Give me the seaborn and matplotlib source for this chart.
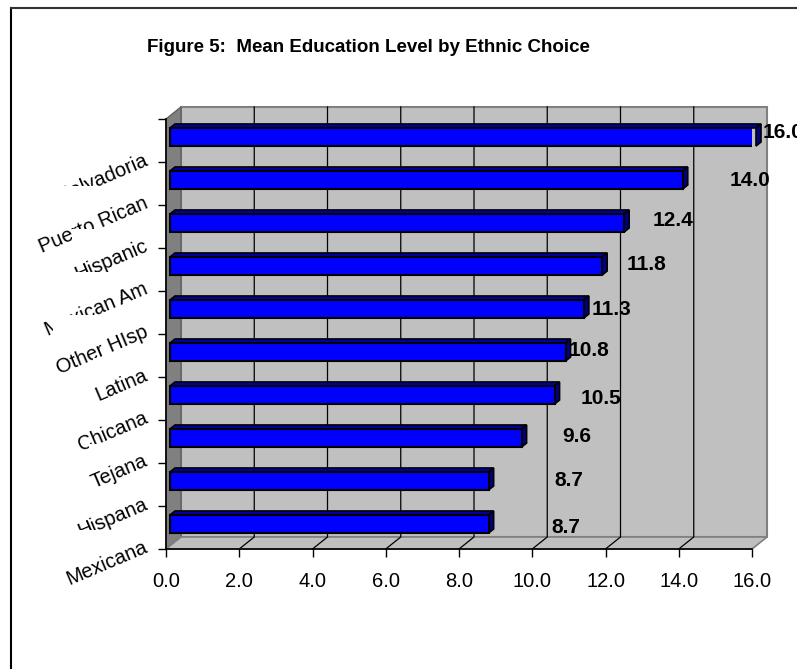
import matplotlib
matplotlib.use("Agg")
import matplotlib.pyplot as plt
from matplotlib.patches import Polygon, Rectangle
from matplotlib.lines import Line2D
from matplotlib.transforms import offset_copy
import seaborn as sns
import pandas as pd
import numpy as np

# ---- data -------------------------------------------------------------
groups = ["Salvadoria", "Puerto Rican", "Hispanic", "Mexican Am", "Other HIsp",
          "Latina", "Chicana", "Tejana", "Hispana", "Mexicana"]
mean_education = [16.0, 14.0, 12.4, 11.8, 11.3, 10.8, 10.5, 9.6, 8.7, 8.7]
x_ticks = [0, 2, 4, 6, 8, 10, 12, 14, 16]
x_tick_labels = ["0.0", "2.0", "4.0", "6.0", "8.0", "10.0", "12.0", "14.0", "16.0"]
title = "Figure 5:  Mean Education Level by Ethnic Choice"

# ---- layout (pixels) ----------------------------------------------------
W, H = 797, 669
DEPTH = np.array([15.0, 12.0])        # offset of the back wall
BAR_FRONT = np.array([4.0, 3.5])      # front face of the bars inside the box
BAR_BACK = np.array([9.0, 7.5])       # back face of the bars
# nudges of the value annotations from the bar end (pixels, right / up)
value_label_dx = [31.5, 71.5, 53.0, 48.5, 32.0, 27.5, 50.0, 59.5, 84.0, 81.5]
value_label_dy = [8.0, 3.5, 5.5, 5.0, 3.5, 5.5, 0.5, 5.5, 4.0, 0.0]

plt.rcParams["font.family"] = ["Liberation Sans", "DejaVu Sans"]

fig = plt.figure(figsize=(W / 100, H / 100), dpi=100)
fig.patch.set_facecolor("white")
ax = fig.add_axes([166 / W, (H - 549) / H, (752 - 166) / W, (549 - 119) / H])
ax.set_facecolor("none")

df = pd.DataFrame({"group": groups, "years": mean_education})
sns.barplot(data=df, x="years", y="group", orient="h", order=groups,
            color="#0000FF", saturation=1, width=0.42, errorbar=None,
            edgecolor="black", linewidth=1.5, zorder=5, ax=ax)
bars = list(ax.patches)

ax.set_xlim(0, 16)
ax.set_ylim(len(groups) - 0.5, -0.5)
ax.set_xlabel("")
ax.set_ylabel("")

for side in ("top", "right"):
    ax.spines[side].set_visible(False)
for side in ("left", "bottom"):
    ax.spines[side].set_color("black")
    ax.spines[side].set_linewidth(1.2)
    ax.spines[side].set_zorder(6)

ax.set_xticks(x_ticks, x_tick_labels)
ax.set_yticks(np.arange(-0.5, len(groups), 1.0))
ax.set_yticklabels([])
ax.tick_params(axis="x", bottom=True, length=5.5, width=1, color="black",
               pad=11, labelsize=14.5)
ax.tick_params(axis="y", left=True, length=5.5, width=1, color="black")


def pix(x, y):
    return ax.transData.transform((x, y))


def to_ax(points):
    return ax.transAxes.inverted().transform(np.asarray(points))


def add_poly(points, **kw):
    poly = Polygon(to_ax(points), closed=True, transform=ax.transAxes,
                   clip_on=False, **kw)
    ax.add_patch(poly)


x0, x1 = ax.get_xlim()
y_bot, y_top = ax.get_ylim()
fl, fr = pix(x0, y_bot), pix(x1, y_bot)
tl, tr = pix(x0, y_top), pix(x1, y_top)

# back wall, left wall and floor of the 3-D box
add_poly([tl + DEPTH, tr + DEPTH, fr + DEPTH, fl + DEPTH],
         facecolor="#C0C0C0", edgecolor="#808080", linewidth=1.5, zorder=0.5)
add_poly([tl, tl + DEPTH, fl + DEPTH, fl],
         facecolor="#808080", edgecolor="#606060", linewidth=1.0, zorder=0.6)
add_poly([fl, fr, fr + DEPTH, fl + DEPTH],
         facecolor="#C0C0C0", edgecolor="#808080", linewidth=1.2, zorder=0.6)

# gridlines across the floor and up the back wall
for t in x_ticks[1:-1]:
    a = pix(t, y_bot)
    b = a + DEPTH
    c = pix(t, y_top) + DEPTH
    pts = to_ax([a, b, c])
    ax.add_line(Line2D(pts[:, 0], pts[:, 1], transform=ax.transAxes,
                       color="black", linewidth=0.9, clip_on=False, zorder=0.8))

# give the bars their depth
front_tf = offset_copy(ax.transData, fig=fig, x=BAR_FRONT[0], y=BAR_FRONT[1],
                       units="dots")
for patch in bars:
    bx, by, bw, bh = patch.get_x(), patch.get_y(), patch.get_width(), patch.get_height()
    p, q = pix(bx, by), pix(bx + bw, by + bh)
    left, right = min(p[0], q[0]), max(p[0], q[0])
    top, bottom = max(p[1], q[1]), min(p[1], q[1])
    patch.set_transform(front_tf)
    f = BAR_FRONT
    k = BAR_BACK
    add_poly([(left + f[0], top + f[1]), (right + f[0], top + f[1]),
              (right + k[0], top + k[1]), (left + k[0], top + k[1])],
             facecolor="#0000A0", edgecolor="black", linewidth=1.2, zorder=4.9)
    add_poly([(right + f[0], top + f[1]), (right + k[0], top + k[1]),
              (right + k[0], bottom + k[1]), (right + f[0], bottom + f[1])],
             facecolor="#000080", edgecolor="black", linewidth=1.2, zorder=4.9)

# value annotations
for i, v in enumerate(mean_education):
    p = pix(v, i) + np.array([value_label_dx[i], value_label_dy[i]])
    ax.text(*to_ax(p), f"{v:.1f}", transform=ax.transAxes, ha="center",
            va="center", fontsize=15, fontweight="bold", color="black",
            clip_on=False, zorder=8)

# slanted category labels, each sitting on its own white box
cat_texts = []
for i, g in enumerate(groups):
    p = pix(0, i) + np.array([-19.0, -19.0])
    t = ax.text(*to_ax(p), g, transform=ax.transAxes, rotation=23,
                rotation_mode="anchor", ha="right", va="center",
                fontsize=14.5, color="black", clip_on=False, zorder=20 + 2 * i)
    cat_texts.append(t)

fig.canvas.draw()
renderer = fig.canvas.get_renderer()
for i, t in enumerate(cat_texts):
    bb = t.get_window_extent(renderer)
    corners = [(bb.x0, bb.y0 - 2), (bb.x1 + 2, bb.y1 + 8)]
    (ax0, ay0), (ax1, ay1) = to_ax(corners)
    ax.add_patch(Rectangle((ax0, ay0), ax1 - ax0, ay1 - ay0,
                           transform=ax.transAxes, facecolor="white",
                           edgecolor="none", clip_on=False, zorder=19 + 2 * i))

fig.text(368 / W, 1 - 47 / H, title, ha="center", va="center",
         fontsize=13.5, fontweight="bold", color="black")

# chart frame
fig.add_artist(Line2D([11 / W, 11 / W], [0, 1 - 8 / H], color="black",
                      linewidth=1.5, transform=fig.transFigure))
fig.add_artist(Line2D([11 / W, 1], [1 - 8 / H, 1 - 8 / H], color="#333333",
                      linewidth=1.5, transform=fig.transFigure))

fig.savefig("out.png", dpi=100)
